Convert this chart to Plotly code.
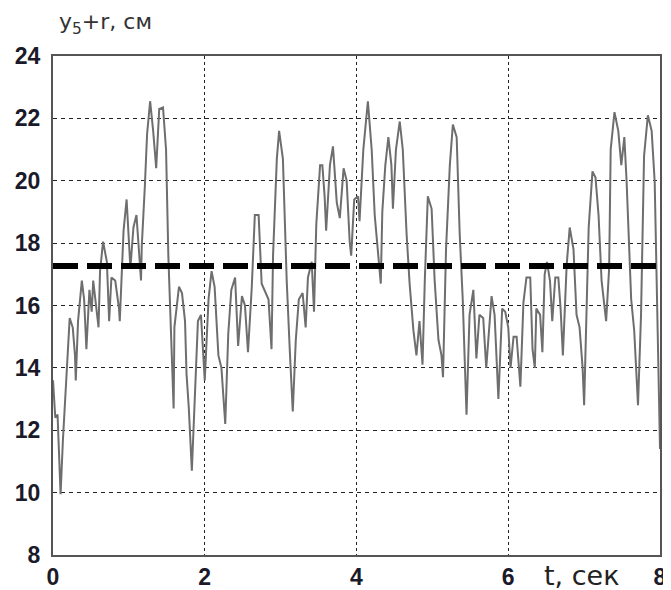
import plotly.graph_objects as go

t = [0.00, 0.03, 0.06, 0.10, 0.13, 0.18, 0.22, 0.26, 0.29, 0.30, 0.33, 0.38, 0.41, 0.44, 0.48, 0.51, 0.53, 0.60, 0.62, 0.66,
     0.71, 0.74, 0.77, 0.82, 0.87, 0.88, 0.90, 0.93, 0.97, 0.99, 1.02, 1.06, 1.10, 1.16, 1.17, 1.21, 1.24, 1.28, 1.32, 1.36,
     1.40, 1.45, 1.49, 1.52, 1.56, 1.59, 1.60, 1.66, 1.70, 1.74, 1.76, 1.79, 1.83, 1.85, 1.88, 1.91, 1.95, 1.98, 2.00, 2.05,
     2.09, 2.13, 2.18, 2.22, 2.27, 2.31, 2.35, 2.40, 2.44, 2.49, 2.53, 2.57, 2.62, 2.66, 2.71, 2.75, 2.79, 2.84, 2.88, 2.90,
     2.95, 2.98, 3.03, 3.08, 3.12, 3.16, 3.20, 3.24, 3.29, 3.33, 3.36, 3.41, 3.44, 3.47, 3.52, 3.55, 3.58, 3.60, 3.65, 3.69,
     3.74, 3.78, 3.83, 3.87, 3.91, 3.93, 3.97, 4.02, 4.04, 4.09, 4.15, 4.20, 4.24, 4.28, 4.32, 4.34, 4.38, 4.42, 4.46, 4.48,
     4.52, 4.57, 4.61, 4.66, 4.70, 4.75, 4.79, 4.83, 4.87, 4.90, 4.94, 4.99, 5.03, 5.08, 5.12, 5.14, 5.18, 5.23, 5.27, 5.32,
     5.36, 5.40, 5.45, 5.49, 5.54, 5.58, 5.62, 5.67, 5.71, 5.78, 5.82, 5.87, 5.92, 5.96, 6.00, 6.03, 6.07, 6.11, 6.16, 6.20,
     6.24, 6.29, 6.32, 6.35, 6.37, 6.42, 6.45, 6.48, 6.51, 6.55, 6.58, 6.62, 6.66, 6.69, 6.72, 6.77, 6.81, 6.86, 6.90, 6.94,
     6.98, 7.00, 7.03, 7.06, 7.11, 7.15, 7.19, 7.23, 7.29, 7.33, 7.35, 7.40, 7.45, 7.49, 7.53, 7.56, 7.62, 7.66, 7.71, 7.75,
     7.79, 7.84, 7.89, 7.93, 7.97, 8.00]

y = [13.6, 12.4, 12.5, 9.95, 11.65, 13.8, 15.6, 15.3, 14.4, 13.6, 15.5, 16.8, 16.2, 14.6, 16.5, 15.8, 16.8, 15.3, 17.1, 18.05,
     17.4, 15.5, 16.9, 16.8, 15.9, 15.5, 16.9, 18.4, 19.4, 18.5, 17.2, 18.5, 18.9, 16.8, 17.9, 19.8, 21.5, 22.55, 21.6, 20.4,
     22.3, 22.35, 21.0, 17.6, 14.6, 12.7, 15.3, 16.6, 16.4, 15.5, 13.8, 12.7, 10.7, 12.0, 13.9, 15.5, 15.7, 14.6, 13.6, 16.2,
     17.1, 16.6, 14.4, 14.0, 12.2, 15.1, 16.5, 16.9, 14.7, 16.3, 16.0, 14.5, 16.6, 18.9, 18.9, 16.7, 16.5, 16.2, 14.6, 17.6,
     20.7, 21.6, 20.7, 16.8, 14.6, 12.6, 14.9, 16.2, 16.4, 15.3, 16.9, 17.4, 15.8, 18.6, 20.5, 20.5, 19.5, 18.4, 20.5, 21.1,
     19.3, 18.8, 20.4, 20.0, 18.05, 17.6, 19.4, 19.5, 18.7, 21.0, 22.55, 21.0, 18.9, 17.8, 16.7, 19.0, 20.5, 21.4, 20.5, 19.1,
     21.0, 21.9, 21.0, 18.3, 16.7, 15.2, 14.4, 15.5, 14.1, 16.8, 19.5, 19.1, 16.8, 14.9, 14.4, 13.7, 17.8, 20.5, 21.8, 21.4,
     18.3, 16.2, 12.5, 15.7, 16.5, 14.3, 15.7, 15.6, 14.0, 16.3, 15.7, 13.0, 15.9, 15.8, 15.3, 14.0, 15.0, 15.0, 13.4, 16.1,
     16.9, 16.9, 14.6, 14.0, 15.9, 15.7, 14.5, 17.0, 17.4, 16.8, 15.5, 16.9, 16.9, 15.9, 14.4, 17.3, 18.5, 17.8, 15.7, 15.3,
     14.0, 12.8, 15.8, 18.5, 20.3, 20.1, 18.9, 16.8, 15.5, 17.2, 21.0, 22.2, 21.6, 20.5, 21.4, 19.97, 16.2, 15.2, 12.8, 15.7,
     20.8, 22.1, 21.6, 19.97, 15.1, 11.4]

level_t = [0, 8]
level_y = [17.27, 17.27]

x_ticks = [0, 2, 4, 6, 8]
y_ticks = [8, 10, 12, 14, 16, 18, 20, 22, 24]

fig = go.Figure()
fig.add_trace(go.Scatter(x=t, y=y, mode="lines",
                         line=dict(color="#6e6e6e", width=2), showlegend=False))
fig.add_trace(go.Scatter(x=level_t, y=level_y, mode="lines",
                         line=dict(color="black", width=6, dash="25px,9px"), showlegend=False))

tickfont = dict(family="Liberation Sans, Arial", size=23, color="#1a1a2a", weight="bold")
fig.update_layout(
    width=663, height=582,
    margin=dict(l=45, r=11, t=48, b=35),
    paper_bgcolor="white", plot_bgcolor="white",
    xaxis=dict(range=[0, 8], tickvals=x_ticks, ticktext=[str(v) for v in x_ticks],
               showgrid=True, gridcolor="#222", griddash="dot", gridwidth=1,
               showline=True, linecolor="#555", linewidth=2, mirror=True, automargin=False,
               ticks="", tickfont=tickfont, zeroline=False, ticklabelstandoff=0),
    yaxis=dict(range=[8, 24], tickvals=y_ticks, ticktext=[str(v) for v in y_ticks],
               showgrid=True, gridcolor="#222", griddash="4px,4px", gridwidth=1,
               showline=True, linecolor="#555", linewidth=2, mirror=True, automargin=False,
               ticks="", tickfont=tickfont, zeroline=False, ticklabelstandoff=6),
    annotations=[
        dict(text="y<sub>5</sub>+r, см", xref="paper", yref="paper", x=0.006, y=1.066,
             xanchor="left", yanchor="middle", showarrow=False,
             font=dict(family="DejaVu Sans", size=22, color="#333")),
        dict(text="t, сек", xref="paper", yref="paper", x=0.871, y=-0.042,
             xanchor="center", yanchor="middle", showarrow=False,
             font=dict(family="DejaVu Sans", size=27, color="#222")),
    ],
)

fig.write_html("out.html")
